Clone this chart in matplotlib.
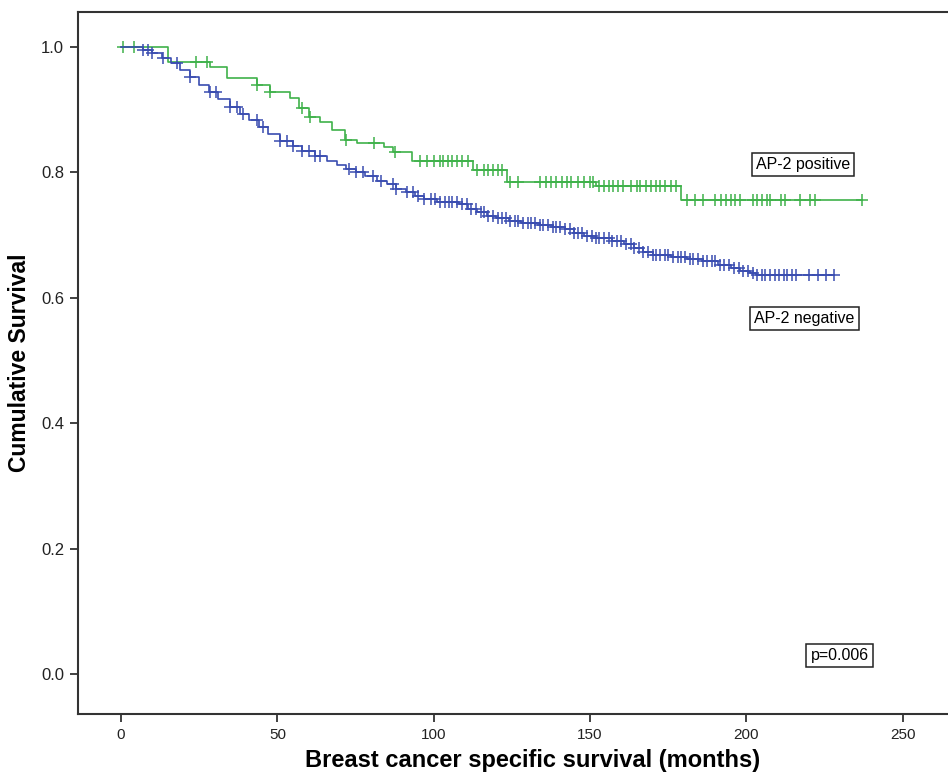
import numpy as np
import matplotlib
matplotlib.use("Agg")
import matplotlib.pyplot as plt

plt.rcParams['font.family'] = ['Liberation Sans', 'DejaVu Sans']

# ---- data ----
pos_event_times = [15, 28.5, 34, 43.5, 47.5, 54, 57, 60, 63.5, 67.5, 71.5, 75.5, 84, 87, 93,
                   112.5, 123.5, 152, 179]
pos_event_surv = [0.976, 0.968, 0.95, 0.94, 0.928, 0.919, 0.903, 0.889, 0.880, 0.868, 0.852,
                  0.847, 0.841, 0.833, 0.818, 0.804, 0.785, 0.779, 0.756]
pos_end = 237
pos_censor = [0.5, 4, 24, 27.5, 43.5, 47.7, 58, 60.5, 72, 81, 87.6, 95.6, 98, 100, 102,
              103, 104.5, 106, 107.5, 109, 111, 114, 116, 117.5, 119, 120.5, 122, 124.5, 127,
              134, 136, 137.5, 139, 141, 142.5, 144, 146, 148, 150, 151, 153, 154.5, 156,
              157.5, 159, 160.5, 163, 165, 166, 168, 169.5, 171, 172.5, 174, 176, 177.5,
              181, 183.5, 186, 190, 192, 193.5, 195, 196.5, 198, 202, 203.5, 205, 206.5,
              207.5, 211, 212.5, 217, 220.5, 222, 237]

neg_event_times = [7, 10, 13, 16, 19, 22, 25, 28, 31, 35, 38, 41, 44, 47, 51, 55, 58, 62, 66,
                   69, 72, 75, 78, 82, 85, 88, 91, 94, 97, 101, 108, 111, 114, 117, 120, 124,
                   128, 134, 138, 142, 145, 148, 152, 157, 161, 164, 167, 170, 176, 181, 186,
                   191, 195, 198, 201, 203]
neg_event_surv = [0.995, 0.99, 0.982, 0.974, 0.963, 0.952, 0.94, 0.928, 0.917, 0.904, 0.893,
                  0.883, 0.872, 0.862, 0.85, 0.842, 0.834, 0.826, 0.818, 0.812, 0.806, 0.80,
                  0.795, 0.787, 0.781, 0.774, 0.768, 0.762, 0.757, 0.752, 0.749, 0.742, 0.737,
                  0.731, 0.727, 0.723, 0.72, 0.716, 0.713, 0.709, 0.704, 0.699, 0.695, 0.69,
                  0.685, 0.679, 0.673, 0.668, 0.665, 0.662, 0.658, 0.653, 0.648, 0.643, 0.639,
                  0.636]
neg_end = 228
neg_censor = [7, 8.5, 10, 13.5, 18, 22, 28.5, 30.5, 35, 37, 39, 43.5, 45.5, 51, 53, 55, 58, 60,
              62, 63.5, 73, 75, 77.5, 80.5, 83, 87, 88, 91.5, 93.5, 95, 97, 99, 100.5, 102,
              103.5, 105, 106, 107.5, 109, 110.5, 112, 113.5, 115, 116, 117.5, 119, 120.5, 122,
              123, 124.5, 126, 127, 128.5, 130, 131, 132.5, 134, 135, 136.5, 138, 139, 140.5,
              142, 143.5, 145, 146, 147.5, 149, 150.5, 152, 153, 154.5, 156, 157, 158.5, 160,
              161.5, 163, 164, 165.5, 167, 168.5, 170, 171, 172.5, 174, 175, 176.5, 178, 179,
              180.5, 182, 183, 184.5, 186, 187.5, 189, 190, 191.5, 193, 194.5, 196, 197.5, 199,
              200.5, 202, 203.5, 205, 206, 207.5, 209, 210.5, 212, 213, 214.5, 216, 220, 223,
              225.5, 228]

x_ticks = [0, 50, 100, 150, 200, 250]
y_ticks = [0.0, 0.2, 0.4, 0.6, 0.8, 1.0]

col_pos = '#3fb24a'
col_neg = '#3a4db0'

fig = plt.figure(figsize=(9.48, 7.74), dpi=100)
# the original frame continues past the right edge of the picture
ax = fig.add_axes([0.0823, 0.0775, 0.958, 0.907])
ax.set_clip_on(True)


def draw(ev_t, ev_s, end, cens, color):
    t = np.array([0.0] + list(ev_t) + [end])
    s = np.array([1.0] + list(ev_s) + [ev_s[-1]])
    ax.step(t, s, where='post', color=color, lw=1.2)
    c = np.array(cens)
    idx = np.searchsorted(np.array(ev_t), c, side='right')
    sv = np.concatenate([[1.0], ev_s])[idx]
    ax.plot(c, sv, linestyle='none', marker='+', color=color, markersize=8, mew=1.1)


draw(pos_event_times, pos_event_surv, pos_end, pos_censor, col_pos)
draw(neg_event_times, neg_event_surv, neg_end, neg_censor, col_neg)

ax.set_xlim(-13.75, 276.7)
ax.set_ylim(-0.0638, 1.0558)
ax.set_xticks(x_ticks)
ax.set_xticklabels([str(v) for v in x_ticks])
ax.set_yticks(y_ticks)
ax.set_yticklabels([f"{v:.1f}" for v in y_ticks])

for sp in ['left', 'bottom', 'top', 'right']:
    ax.spines[sp].set_linewidth(1.5)
    ax.spines[sp].set_color('#333333')
ax.tick_params(axis='both', direction='out', length=6, width=1.3, color='#333333',
               labelsize=11, labelcolor='#222222', pad=4)
ax.tick_params(axis='y', labelsize=12)

ax.set_xlabel('Breast cancer specific survival (months)', fontsize=17, fontweight='bold',
              labelpad=5)
ax.set_ylabel('Cumulative Survival', fontsize=16.5, fontweight='bold', labelpad=7)

box = dict(boxstyle='square,pad=0.25', facecolor='white', edgecolor='#222222', lw=1.1)
ax.text(203.0, 0.8126, 'AP-2 positive', fontsize=11.5, va='center', ha='left', bbox=box)
ax.text(202.5, 0.567, 'AP-2 negative', fontsize=11.5, va='center', ha='left', bbox=box)
ax.text(220.5, 0.0295, 'p=0.006', fontsize=11.5, va='center', ha='left', bbox=box)

fig.savefig('out.png', dpi=100)
